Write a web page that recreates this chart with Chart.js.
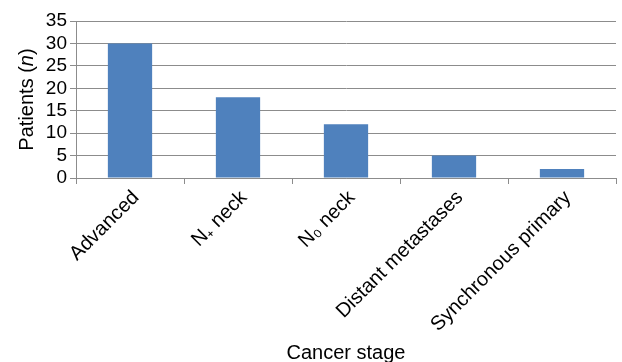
<!DOCTYPE html>
<html>
<head>
<meta charset="utf-8">
<script src="https://cdn.jsdelivr.net/npm/chart.js@4/dist/chart.umd.min.js"></script>
<style>
  html, body { margin: 0; padding: 0; background: #fff; }
  #wrap { width: 622px; height: 362px; }
</style>
</head>
<body>
<div id="wrap"><canvas id="stage-chart"></canvas></div>
<script>
const stageLabels = ['Advanced', 'N\u208A neck', 'N\u2080 neck', 'Distant metastases', 'Synchronous primary'];
const patientCounts = [30, 18, 12, 5, 2];
const yMax = 35;
const yStep = 5;

const FONT = '"Liberation Sans", Arial, Helvetica, sans-serif';
const GRID = '#8c8c8c';

// y title with italic n, drawn as text on the canvas
const yTitlePlugin = {
    id: 'yTitle',
    afterDraw(chart) {
        const ctx = chart.ctx;
        const area = chart.chartArea;
        const parts = [
            { text: 'Patients (', font: '20px ' + FONT },
            { text: 'n', font: 'italic 20px ' + FONT },
            { text: ')', font: '20px ' + FONT }
        ];
        let total = 0;
        parts.forEach(p => { ctx.font = p.font; p.w = ctx.measureText(p.text).width; total += p.w; });
        ctx.save();
        ctx.translate(27, (area.top + area.bottom) / 2);
        ctx.rotate(-Math.PI / 2);
        ctx.fillStyle = '#000';
        ctx.textBaseline = 'middle';
        ctx.textAlign = 'left';
        let x = -total / 2;
        parts.forEach(p => { ctx.font = p.font; ctx.fillText(p.text, x, 0); x += p.w; });
        ctx.restore();
    }
};

new Chart(document.getElementById('stage-chart'), {
    type: 'bar',
    data: {
        labels: stageLabels,
        datasets: [{
            label: 'Patients',
            data: patientCounts,
            backgroundColor: '#4f81bd',
            borderWidth: 0,
            categoryPercentage: 1,
            barPercentage: 0.41
        }]
    },
    options: {
        responsive: true,
        maintainAspectRatio: false,
        animation: false,
        layout: { padding: { top: 21, right: 6, left: 0, bottom: 0 } },
        plugins: {
            legend: { display: false },
            tooltip: { enabled: false }
        },
        scales: {
            x: {
                grid: { offset: true, drawOnChartArea: false, drawTicks: true, tickLength: 6, color: GRID },
                border: { color: GRID },
                ticks: {
                    autoSkip: false,
                    color: '#000',
                    font: { family: FONT, size: 20 },
                    minRotation: 45,
                    maxRotation: 45,
                    padding: 2,
                    labelOffset: 6
                },
                title: {
                    display: true,
                    text: 'Cancer stage',
                    color: '#000',
                    font: { family: FONT, size: 20 },
                    padding: { top: 0, bottom: -3 }
                },
                afterFit(scale) { scale.height = 184; }
            },
            y: {
                min: 0,
                max: yMax,
                grid: { color: GRID, tickLength: 6 },
                border: { color: GRID },
                ticks: {
                    autoSkip: false,
                    stepSize: yStep,
                    color: '#000',
                    font: { family: FONT, size: 19 },
                    padding: 3
                },
                afterFit(scale) { scale.width = 76; }
            }
        }
    },
    plugins: [yTitlePlugin]
});
</script>
</body>
</html>
